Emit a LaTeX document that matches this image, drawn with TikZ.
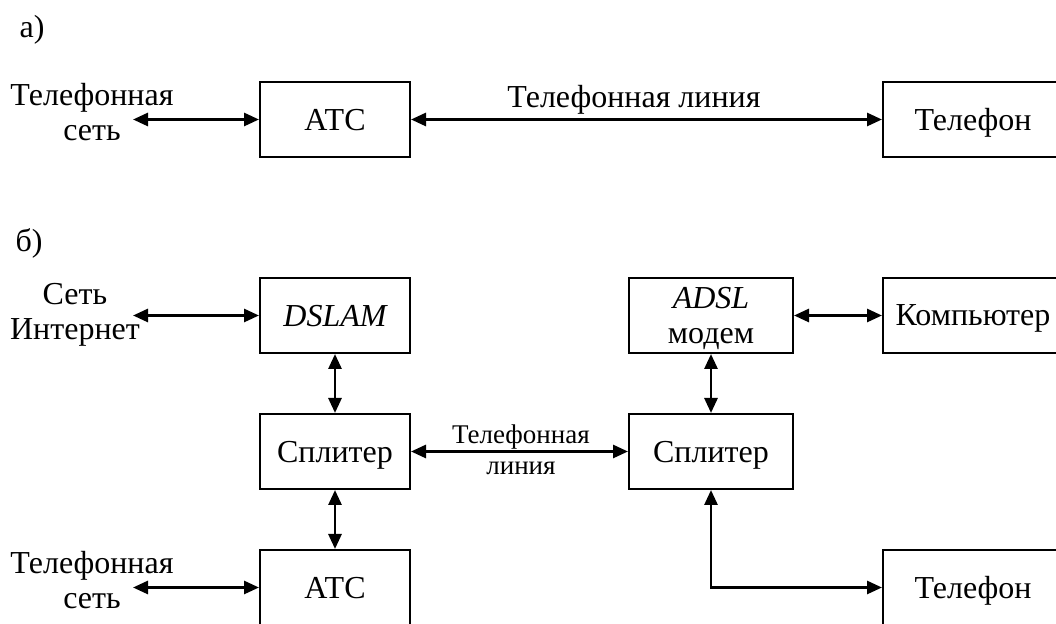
\documentclass[tikz,border=0pt]{standalone}
\usepackage{fontspec}
\setmainfont{Liberation Serif}
\usetikzlibrary{arrows.meta}

\tikzset{
  blok/.style={draw, rectangle, line width=1pt, minimum height=37.5pt, inner sep=0pt, text depth=0pt},
  svyaz/.style={{Triangle[length=7.5pt,width=6.5pt]}-{Triangle[length=7.5pt,width=6.5pt]}, line width=1.4pt},
  txt/.style={align=center, inner sep=0pt},
  melko/.style={font=\fontsize{13.5}{15}\selectfont},
}

\begin{document}
\begin{tikzpicture}[x=0.5pt,y=-0.5pt,font=\fontsize{16}{17.5}\selectfont]
		\clip (0,0) rectangle (1056,624);
		% a)
		\node[txt] (pa) at (32,30) {а)};
		\node[txt] (tsetA) at (92,112) {Телефонная\\сеть};
		\coordinate (tsetAe) at (133,119.5);
		\node[blok,minimum width=75pt] (atcA) at (335,119.5) {АТС};
		\node[blok,minimum width=90pt] (telA) at (973,119.5) {Телефон};
		\node[txt] (tlinA) at (634,100) {Телефонная линия};
		\draw[svyaz] (tsetAe) -- (atcA.west);
		\draw[svyaz] (atcA.east) -- (telA.west);
		% b)
		\node[txt] (pb) at (29,243) {б)};
		\node[txt] (inet) at (75,315) {Сеть\\Интернет};
		\coordinate (inete) at (133,315.5);
		\node[blok,minimum width=75pt] (dslam) at (335,315.5) {\itshape DSLAM};
		\node[blok,minimum width=75pt] (splL) at (335,451.5) {Сплитер};
		\node[blok,minimum width=75pt] (atcB) at (335,587.5) {АТС};
		\node[txt] (tsetB) at (92,580) {Телефонная\\сеть};
		\coordinate (tsetBe) at (133,587.5);
		\node[blok,minimum width=82pt,align=center] (adsl) at (711,315.5) {\textit{ADSL}\\модем};
		\node[blok,minimum width=82pt] (splR) at (711,451.5) {Сплитер};
		\node[blok,minimum width=90pt] (comp) at (973,315.5) {Компьютер};
		\node[blok,minimum width=90pt] (telB) at (973,587.5) {Телефон};
		\node[txt,melko] (tlin1) at (521,437) {Телефонная};
		\node[txt,melko] (tlin2) at (521,468) {линия};
		\draw[svyaz] (inete) -- (dslam.west);
		\draw[svyaz] (tsetBe) -- (atcB.west);
		\draw[svyaz] (dslam.south) -- (splL.north);
		\draw[svyaz] (splL.south) -- (atcB.north);
		\draw[svyaz] (splL.east) -- (splR.west);
		\draw[svyaz] (adsl.east) -- (comp.west);
		\draw[svyaz] (adsl.south) -- (splR.north);
		\draw[svyaz] (splR.south) |- (telB.west);
\end{tikzpicture}
\end{document}
